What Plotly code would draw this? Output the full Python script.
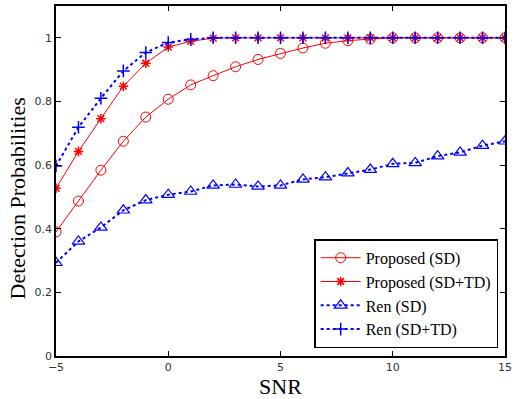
import plotly.graph_objects as go

snr = list(range(-5, 16))
proposed_sd = [0.39, 0.487, 0.584, 0.675, 0.751, 0.807, 0.852, 0.881, 0.909, 0.932, 0.951,
               0.968, 0.983, 0.991, 0.996, 1.0, 1.0, 1.0, 1.0, 1.0, 1.0]
proposed_sdtd = [0.527, 0.643, 0.746, 0.848, 0.92, 0.971, 0.989, 0.999, 1.0, 1.0, 1.0,
                 1.0, 1.0, 1.0, 1.0, 1.0, 1.0, 1.0, 1.0, 1.0, 1.0]
ren_sd = [0.293, 0.36, 0.404, 0.458, 0.49, 0.507, 0.517, 0.536, 0.539, 0.533, 0.536,
          0.555, 0.562, 0.575, 0.586, 0.604, 0.607, 0.628, 0.64, 0.661, 0.675]
ren_sdtd = [0.597, 0.719, 0.81, 0.896, 0.954, 0.985, 0.995, 1.0, 1.0, 1.0, 1.0,
            1.0, 1.0, 1.0, 1.0, 1.0, 1.0, 1.0, 1.0, 1.0, 1.0]

fig = go.Figure()
fig.add_trace(go.Scatter(x=snr, y=proposed_sd, name="Proposed (SD)", mode="lines+markers",
                         line=dict(color="red", width=1),
                         marker=dict(symbol="circle-open", size=10, color="red", line=dict(width=1))))
fig.add_trace(go.Scatter(x=snr, y=proposed_sdtd, name="Proposed (SD+TD)", mode="lines+markers",
                         line=dict(color="red", width=1),
                         marker=dict(symbol="asterisk-open", size=8, color="red", line=dict(width=1.5, color="red"))))
fig.add_trace(go.Scatter(x=snr, y=ren_sd, name="Ren (SD)", mode="lines+markers",
                         line=dict(color="blue", width=2, dash="dot"),
                         marker=dict(symbol="triangle-up-open", size=11, color="blue", line=dict(width=1.2))))
fig.add_trace(go.Scatter(x=snr, y=ren_sdtd, name="Ren (SD+TD)", mode="lines+markers",
                         line=dict(color="blue", width=2, dash="dot"),
                         marker=dict(symbol="cross-thin-open", size=9, color="blue", line=dict(width=1.5, color="blue"))))

axis_common = dict(showgrid=False, zeroline=False, showline=True, linecolor="black", linewidth=1.5,
                   mirror="ticks", ticks="inside", ticklen=5, tickcolor="black",
                   tickfont=dict(family="DejaVu Sans", size=11, color="#333333"))
fig.update_xaxes(range=[-5, 15], tickvals=[-5, 0, 5, 10, 15], ticktext=["\u22125", "0", "5", "10", "15"],
                 title=dict(text="SNR", font=dict(family="Liberation Serif", size=22, color="black"), standoff=4),
                 **axis_common)
fig.update_yaxes(range=[0, 1.1], tickvals=[0, 0.2, 0.4, 0.6, 0.8, 1.0],
                 ticktext=["0", "0.2", "0.4", "0.6", "0.8", "1"],
                 **axis_common)
fig.add_annotation(text="Detection Probabilities", textangle=-90, xref="paper", yref="paper",
                   x=0, y=0.45, xanchor="center", yanchor="middle", xshift=-39, showarrow=False,
                   font=dict(family="Liberation Serif", size=22, color="black"))
fig.update_layout(width=517, height=399, margin=dict(l=56, r=12, t=4, b=43),
                  plot_bgcolor="white", paper_bgcolor="white", showlegend=True,
                  legend=dict(x=0.575, y=0.022, xanchor="left", yanchor="bottom",
                              bgcolor="white", bordercolor="black", borderwidth=1.5,
                              font=dict(family="Liberation Serif", size=16, color="black"),
                              tracegroupgap=0, itemwidth=40))
fig.write_html("out.html", config={"displayModeBar": False},
               post_script="document.body.style.margin='0';")
